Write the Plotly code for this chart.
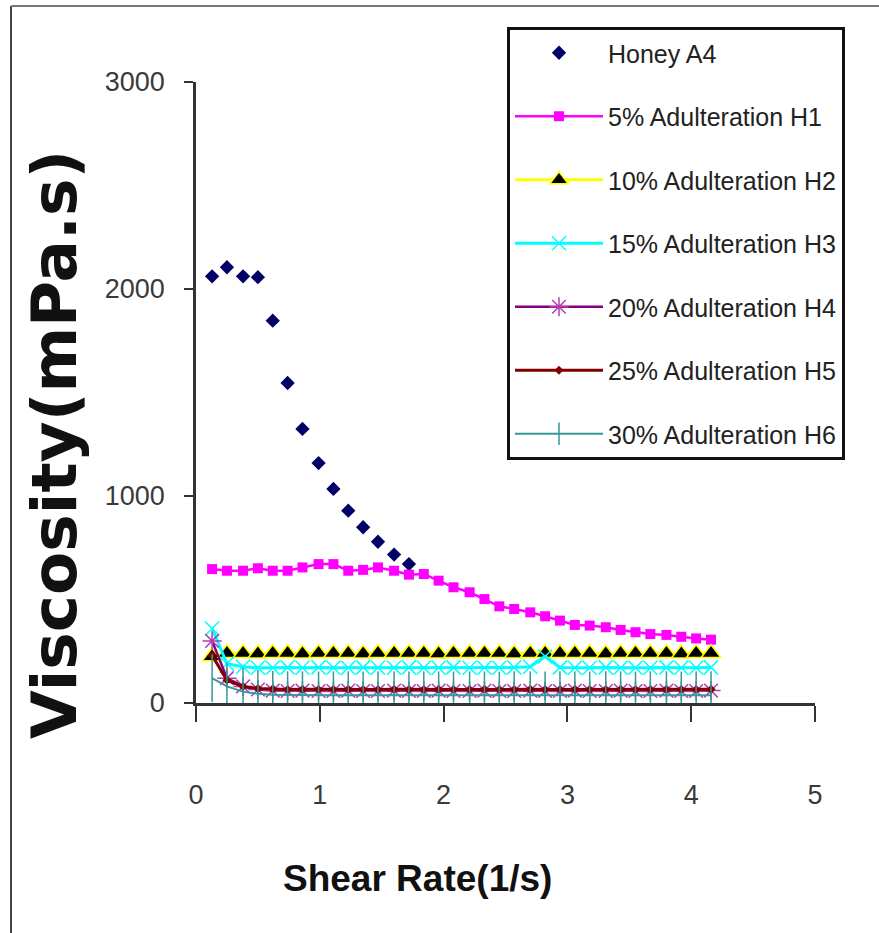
import plotly.graph_objects as go

# ---- data ----
shear_rate = [0.13, 0.25, 0.38, 0.50, 0.62, 0.74, 0.86, 0.99, 1.11, 1.23, 1.35, 1.47,
              1.60, 1.72, 1.84, 1.96, 2.08, 2.21, 2.33, 2.45, 2.57, 2.70, 2.82, 2.94,
              3.06, 3.18, 3.31, 3.43, 3.55, 3.67, 3.80, 3.92, 4.04, 4.16]

honey_a4 = [2061, 2105, 2061, 2057, 1847, 1546, 1324, 1159, 1034, 929, 849, 779, 717, 671]

h1_5 = [647, 639, 639, 651, 639, 639, 655, 671, 671, 639, 643, 655, 639, 620,
        623, 591, 559, 535, 502, 467, 454, 438, 419, 398, 377, 374, 366, 353,
        342, 333, 329, 320, 312, 306]

h2_10 = [225, 240, 240, 238, 240, 240, 238, 240, 240, 240, 238, 240, 240, 240,
         240, 238, 240, 240, 240, 240, 238, 240, 240, 240, 240, 240, 238, 240,
         240, 240, 240, 238, 240, 240]

h3_15 = [360, 190, 175, 170, 170, 172, 170, 172, 170, 170, 172, 170, 170, 172,
         170, 170, 172, 170, 170, 170, 172, 175, 225, 172, 170, 170, 172, 170,
         170, 170, 172, 170, 170, 172]

h4_20 = [300, 120, 80, 65, 60, 58, 60, 58, 58, 60, 58, 58, 60, 58, 58, 60, 58,
         58, 60, 58, 58, 60, 58, 58, 60, 58, 58, 60, 58, 58, 60, 58, 58, 60]

h5_25 = [230, 110, 80, 70, 68, 65, 66, 65, 65, 66, 65, 65, 66, 65, 65, 66, 65,
         65, 66, 65, 65, 66, 65, 65, 66, 65, 65, 66, 65, 65, 66, 65, 65, 66]

h6_30 = [120, 80, 55, 45, 40, 38, 38, 37, 38, 38, 37, 38, 38, 37, 38, 38, 37,
         38, 38, 37, 38, 38, 37, 38, 38, 37, 38, 38, 37, 38, 38, 37, 38, 38]

names = ["Honey A4", "5% Adulteration H1", "10% Adulteration H2", "15% Adulteration H3",
         "20% Adulteration H4", "25% Adulteration H5", "30% Adulteration H6"]

x_ticks = [0, 1, 2, 3, 4, 5]
y_ticks = [0, 1000, 2000, 3000]

# ---- figure ----
W, H = 879, 933
L, R, T, B = 196, 64, 82, 230
pw, ph = W - L - R, H - T - B


def px_x(p):
    return (p - L) / pw


def px_y(p):
    return (H - B - p) / ph


fig = go.Figure()

fig.add_trace(go.Scatter(
    x=shear_rate[:len(honey_a4)], y=honey_a4, name=names[0], mode="markers",
    marker=dict(symbol="diamond", size=11, color="#000066"), legendgroup="g0"))

fig.add_trace(go.Scatter(
    x=shear_rate, y=h1_5, name=names[1], mode="lines+markers",
    line=dict(color="#FF00FF", width=2.5),
    marker=dict(symbol="square", size=10, color="#FF00FF"), legendgroup="g1"))

fig.add_trace(go.Scatter(
    x=shear_rate, y=h2_10, name=names[2], mode="lines+markers",
    line=dict(color="#FFFF00", width=3),
    marker=dict(symbol="triangle-up", size=17, color="#000000",
                line=dict(color="#FFFF00", width=1.5)), legendgroup="g2"))

fig.add_trace(go.Scatter(
    x=shear_rate, y=h3_15, name=names[3], mode="lines+markers",
    line=dict(color="#00FFFF", width=3),
    marker=dict(symbol="x-thin", size=14, color="#00FFFF",
                line=dict(color="#00FFFF", width=1.5)), legendgroup="g3"))

fig.add_trace(go.Scatter(
    x=shear_rate, y=h4_20, name=names[4], mode="lines+markers",
    line=dict(color="#800080", width=2.5),
    marker=dict(symbol="asterisk", size=16, color="#CC66CC",
                line=dict(color="#B040B0", width=1.5)), legendgroup="g4"))

fig.add_trace(go.Scatter(
    x=shear_rate, y=h5_25, name=names[5], mode="lines+markers",
    line=dict(color="#800000", width=3),
    marker=dict(symbol="diamond", size=7, color="#800000"), legendgroup="g5"))

fig.add_trace(go.Scatter(
    x=shear_rate, y=h6_30, name=names[6], mode="lines+markers",
    line=dict(color="#339999", width=2),
    marker=dict(symbol="line-ns", size=34, color="#339999",
                line=dict(color="#339999", width=1.5)), legendgroup="g6"))

tick_font = dict(family="Liberation Sans, Arial", size=27, color="#3a3a3a")

fig.update_layout(
    width=W, height=H, autosize=False,
    margin=dict(l=L, r=R, t=T, b=B, pad=0),
    paper_bgcolor="white", plot_bgcolor="white",
    showlegend=True,
    xaxis=dict(range=[0, 5], tickvals=x_ticks, ticktext=[str(v) for v in x_ticks],
               showgrid=False, zeroline=False, showline=True, linecolor="#333333",
               linewidth=2.5, ticks="outside", ticklen=16, tickwidth=2, tickcolor="#333333",
               ticklabelstandoff=50, tickfont=tick_font),
    yaxis=dict(range=[0, 3000], tickvals=y_ticks, ticktext=[str(v) for v in y_ticks],
               showgrid=False, zeroline=False, showline=True, linecolor="#333333",
               linewidth=2.5, ticks="outside", ticklen=9, tickwidth=2, tickcolor="#333333",
               ticklabelstandoff=14, tickfont=tick_font),
    legend=dict(x=px_x(507), y=px_y(27), xanchor="left", yanchor="top",
                bgcolor="white", bordercolor="#111111", borderwidth=3,
                font=dict(family="Liberation Sans, Arial", size=25, color="#222222"),
                traceorder="grouped", tracegroupgap=28, itemwidth=88),
    annotations=[
        dict(text="<b>Viscosity(mPa.s)</b>", textangle=-90, showarrow=False,
             xref="paper", yref="paper", x=px_x(55), y=px_y(445),
             xanchor="center", yanchor="middle",
             font=dict(family="DejaVu Sans, Liberation Sans", size=63, color="#111111")),
        dict(text="<b>Shear Rate(1/s)</b>", showarrow=False,
             xref="paper", yref="paper", x=px_x(417), y=px_y(878),
             xanchor="center", yanchor="middle",
             font=dict(family="Liberation Sans, Arial", size=37, color="#111111")),
    ],
    shapes=[
        dict(type="line", xref="paper", yref="paper", x0=px_x(11), x1=px_x(11),
             y0=px_y(6), y1=px_y(933), line=dict(color="#444444", width=2)),
        dict(type="line", xref="paper", yref="paper", x0=px_x(11), x1=px_x(879),
             y0=px_y(6), y1=px_y(6), line=dict(color="#777777", width=2)),
    ],
)

fig.write_html("out.html")
